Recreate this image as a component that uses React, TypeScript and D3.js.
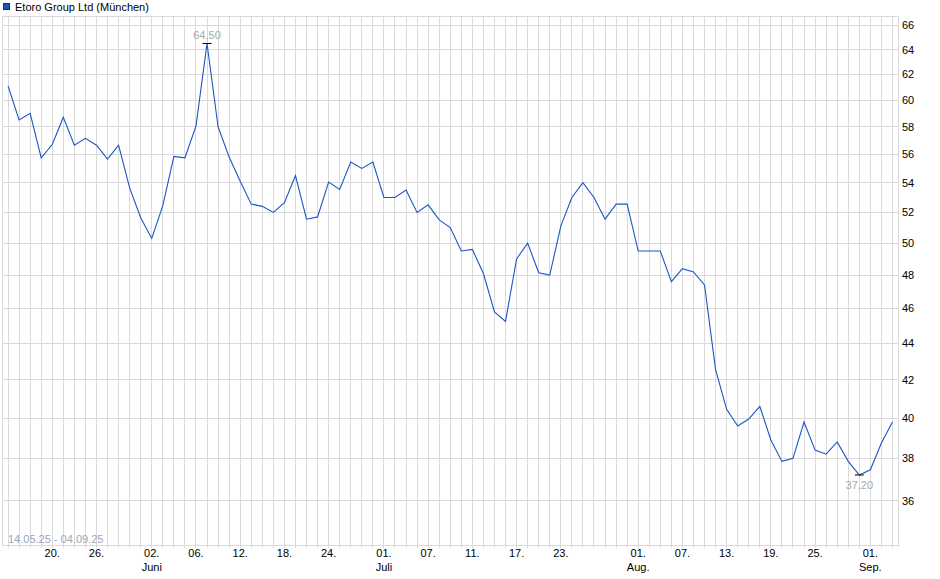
import { useMemo } from "react";
import * as d3 from "d3";

const width = 940;
const height = 579;
const plot = { left: 2.5, right: 898, top: 16, bottom: 545.5 };

const title = "Etoro Group Ltd (München)";
const rangeLabel = "14.05.25 - 04.09.25";

// trading days shown on the x axis
const dates = [
  "2025-05-14", "2025-05-15", "2025-05-16", "2025-05-19", "2025-05-20", "2025-05-21", "2025-05-22",
  "2025-05-23", "2025-05-26", "2025-05-27", "2025-05-28", "2025-05-29", "2025-05-30",
  "2025-06-02", "2025-06-03", "2025-06-04", "2025-06-05", "2025-06-06", "2025-06-09", "2025-06-10",
  "2025-06-11", "2025-06-12", "2025-06-13", "2025-06-16", "2025-06-17", "2025-06-18", "2025-06-19",
  "2025-06-20", "2025-06-23", "2025-06-24", "2025-06-25", "2025-06-26", "2025-06-27", "2025-06-30",
  "2025-07-01", "2025-07-02", "2025-07-03", "2025-07-04", "2025-07-07", "2025-07-08", "2025-07-09",
  "2025-07-10", "2025-07-11", "2025-07-14", "2025-07-15", "2025-07-16", "2025-07-17", "2025-07-18",
  "2025-07-21", "2025-07-22", "2025-07-23", "2025-07-24", "2025-07-25", "2025-07-28", "2025-07-29",
  "2025-07-30", "2025-07-31", "2025-08-01", "2025-08-04", "2025-08-05", "2025-08-06", "2025-08-07",
  "2025-08-08", "2025-08-11", "2025-08-12", "2025-08-13", "2025-08-14", "2025-08-15", "2025-08-18",
  "2025-08-19", "2025-08-20", "2025-08-21", "2025-08-22", "2025-08-25", "2025-08-26", "2025-08-27",
  "2025-08-28", "2025-08-29", "2025-09-01", "2025-09-02", "2025-09-03",
];

// closing prices in EUR
const prices = [
  61.1, 58.5, 59.0, 55.75, 56.7, 58.7, 56.65, 57.15, 56.65, 55.65, 56.65, 53.65, 51.65,
  50.3, 52.45, 55.85, 55.75, 58.05, 64.5, 58.0, 55.8, 54.1, 52.55, 52.4, 52.0, 52.65,
  54.5, 51.55, 51.7, 54.05, 53.55, 55.45, 55.0, 55.45,
  53.0, 53.0, 53.5, 52.0, 52.5, 51.5, 51.0, 49.5, 49.6, 48.1, 45.8, 45.25, 49.0, 50.0,
  48.15, 48.0, 51.1, 53.0, 54.0, 53.0, 51.55, 52.55, 52.55,
  49.5, 49.5, 49.5, 47.6, 48.4, 48.2, 47.4, 42.55, 40.45, 39.6, 39.95, 40.6, 38.9, 37.85,
  38.0, 39.8, 38.4, 38.2, 38.8, 37.85, 37.2,
  37.45, 38.75, 39.8,
];

const yTicks = [36, 38, 40, 42, 44, 46, 48, 50, 52, 54, 56, 58, 60, 62, 64, 66];

const xTickDates = [
  "2025-05-20", "2025-05-26", "2025-06-02", "2025-06-06", "2025-06-12", "2025-06-18",
  "2025-06-24", "2025-07-01", "2025-07-07", "2025-07-11", "2025-07-17", "2025-07-23",
  "2025-08-01", "2025-08-07", "2025-08-13", "2025-08-19", "2025-08-25", "2025-09-01",
];

const monthLabels: Record<string, string> = {
  "2025-06-02": "Juni",
  "2025-07-01": "Juli",
  "2025-08-01": "Aug.",
  "2025-09-01": "Sep.",
};

const font = "'Liberation Sans', Arial, sans-serif";
const gridColor = "#dadada";
const lineColor = "#1a56c4";

const fmt = (v: number) => v.toFixed(2).replace(".", ",");

const App = () => {
  const { xScale, yScale, path, maxI, minI } = useMemo(() => {
    const xScale = d3
      .scaleLinear()
      .domain([-0.5, dates.length - 0.5])
      .range([plot.left, plot.right]);
    const yScale = d3
      .scaleLog()
      .domain([34, 66.8])
      .range([plot.bottom, plot.top]);
    const line = d3
      .line<number>()
      .x((_, i) => xScale(i))
      .y((d) => yScale(d));
    const path = line(prices) ?? "";
    const maxI = d3.maxIndex(prices);
    const minI = d3.minIndex(prices);
    return { xScale, yScale, path, maxI, minI };
  }, []);

  return (
    <svg
      width={width}
      height={height}
      style={{ position: "absolute", left: 0, top: 0, background: "#fff" }}
      fontFamily={font}
    >
      {/* legend / title */}
      <rect x={3.5} y={3.5} width={6} height={6} fill="#1f55b8" stroke="#0d2f73" />
      <text x={15} y={10.5} fontSize={11} fill="#000">
        {title}
      </text>

      {/* vertical grid, one line per trading day */}
      <g stroke={gridColor} shapeRendering="crispEdges">
        {dates.map((d, i) => (
          <line key={d} x1={xScale(i)} x2={xScale(i)} y1={plot.top} y2={plot.bottom + 2} />
        ))}
        {yTicks.map((t) => (
          <line key={t} x1={plot.left} x2={plot.right} y1={yScale(t)} y2={yScale(t)} />
        ))}
        <rect
          x={plot.left}
          y={plot.top}
          width={plot.right - plot.left}
          height={plot.bottom - plot.top}
          fill="none"
        />
      </g>

      {/* y axis labels on the right */}
      {yTicks.map((t) => (
        <text key={t} x={902} y={yScale(t) + 4} fontSize={11} fill="#000">
          {t}
        </text>
      ))}

      {/* x axis labels */}
      {xTickDates.map((d) => {
        const x = xScale(dates.indexOf(d));
        return (
          <g key={d}>
            <text x={x} y={557} fontSize={11} textAnchor="middle" fill="#000">
              {d.slice(8) + "."}
            </text>
            {monthLabels[d] && (
              <text x={x} y={571} fontSize={11} textAnchor="middle" fill="#000">
                {monthLabels[d]}
              </text>
            )}
          </g>
        );
      })}

      <text x={8} y={543} fontSize={11} fill="#9ba6b8">
        {rangeLabel}
      </text>

      {/* price line */}
      <path d={path} fill="none" stroke={lineColor} strokeWidth={1.1} />

      {/* high / low markers */}
      <line
        x1={xScale(maxI) - 4.5}
        x2={xScale(maxI) + 4.5}
        y1={yScale(prices[maxI])}
        y2={yScale(prices[maxI])}
        stroke="#000"
      />
      <text
        x={xScale(maxI)}
        y={yScale(prices[maxI]) - 4}
        fontSize={11}
        textAnchor="middle"
        fill="#a9a9a9"
      >
        {fmt(prices[maxI])}
      </text>
      <line
        x1={xScale(minI) - 4.5}
        x2={xScale(minI) + 4.5}
        y1={yScale(prices[minI])}
        y2={yScale(prices[minI])}
        stroke="#000"
      />
      <text
        x={xScale(minI)}
        y={yScale(prices[minI]) + 14}
        fontSize={11}
        textAnchor="middle"
        fill="#a9a9a9"
      >
        {fmt(prices[minI])}
      </text>
    </svg>
  );
};

export default App;
